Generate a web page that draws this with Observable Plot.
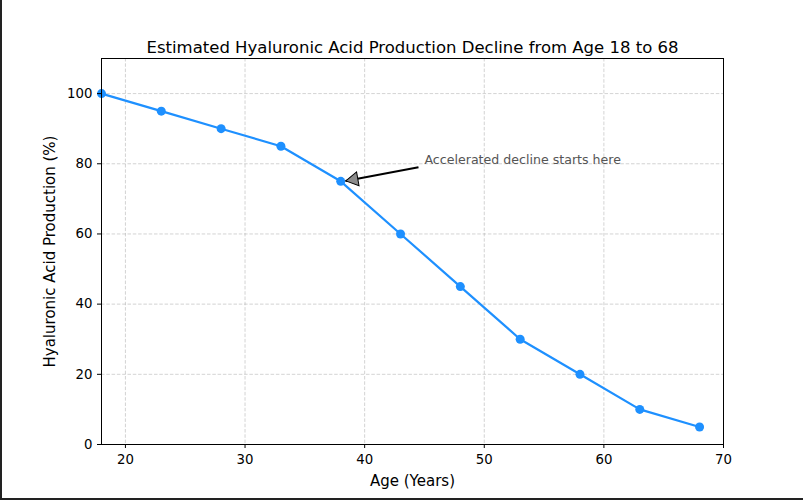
<!DOCTYPE html>
<html>
<head>
<meta charset="utf-8">
<script src="https://cdn.jsdelivr.net/npm/d3@7"></script>
<script src="https://cdn.jsdelivr.net/npm/@observablehq/plot@0.6"></script>
<style>
  html, body { margin: 0; padding: 0; background: #fff; }
  #wrap { position: relative; width: 803px; height: 500px; overflow: hidden; }
  #edge { position: absolute; left: 0; top: 0; width: 803px; height: 500px; box-sizing: border-box;
          border-left: 2px solid #222; border-bottom: 2px solid #222; pointer-events: none; }
  svg { font-family: "DejaVu Sans", sans-serif; }
</style>
</head>
<body>
<div id="wrap"><div id="edge"></div></div>
<script>
// Data
const ages = [18, 23, 28, 33, 38, 43, 48, 53, 58, 63, 68];
const production = [100, 95, 90, 85, 75, 60, 45, 30, 20, 10, 5];
const xTicks = [20, 30, 40, 50, 60, 70];
const yTicks = [0, 20, 40, 60, 80, 100];
const title = "Estimated Hyaluronic Acid Production Decline from Age 18 to 68";
const xLabel = "Age (Years)";
const yLabel = "Hyaluronic Acid Production (%)";
const noteText = ["Accelerated decline starts here"];
const noteTextPos = [45, 80];
const arrowStart = [44.5, 79];
const arrowTip = [38.4, 75.1];

const data = ages.map((a, i) => ({age: a, value: production[i]}));

const chart = Plot.plot({
  width: 803,
  height: 500,
  marginLeft: 101,
  marginRight: 80,
  marginTop: 58,
  marginBottom: 56,
  style: {fontFamily: "DejaVu Sans, sans-serif", color: "#000", background: "transparent"},
  x: {domain: [18, 70]},
  y: {domain: [0, 110]},
  marks: [
    Plot.gridX(xTicks, {stroke: "#b0b0b0", strokeOpacity: 0.7, strokeDasharray: "3.5,1.8", strokeWidth: 0.8}),
    Plot.gridY(yTicks, {stroke: "#b0b0b0", strokeOpacity: 0.7, strokeDasharray: "3.5,1.8", strokeWidth: 0.8}),
    Plot.line(data, {x: "age", y: "value", stroke: "#1E90FF", strokeWidth: 2.2}),
    Plot.dot(data, {x: "age", y: "value", fill: "#1E90FF", r: 4.5}),
    Plot.link([0], {x1: () => arrowStart[0], y1: () => arrowStart[1], x2: () => arrowTip[0], y2: () => arrowTip[1], stroke: "#000", strokeWidth: 2}),
    Plot.dot([0], {x: () => arrowTip[0], y: () => arrowTip[1], symbol: "triangle", r: 5.2, rotate: -100,
      fill: "#8c8c8c", stroke: "#000", strokeWidth: 1, dx: 8.3, dy: -1.5}),
    Plot.text(noteText, {x: () => noteTextPos[0], y: () => noteTextPos[1], text: d => d, textAnchor: "start",
      lineAnchor: "bottom", fill: "#555", fontSize: 12.6, dy: 0}),
    Plot.frame({stroke: "#000", strokeWidth: 1}),
    Plot.axisX(xTicks, {tickSize: 4, tickPadding: 6, fontSize: 13.3, label: null, stroke: "#000"}),
    Plot.axisY(yTicks, {tickSize: 4, tickPadding: 5, fontSize: 13.3, label: null, stroke: "#000"}),
    Plot.text([title], {frameAnchor: "top", lineAnchor: "bottom", dy: -6, fontSize: 16.5, fill: "#000"}),
    Plot.text([xLabel], {frameAnchor: "bottom", lineAnchor: "middle", dy: 37, fontSize: 15, fill: "#000"}),
    Plot.text([yLabel], {frameAnchor: "left", textAnchor: "middle", rotate: -90, dx: -51, fontSize: 15, fill: "#000"})
  ]
});
document.getElementById("wrap").insertBefore(chart, document.getElementById("edge"));
</script>
</body>
</html>
